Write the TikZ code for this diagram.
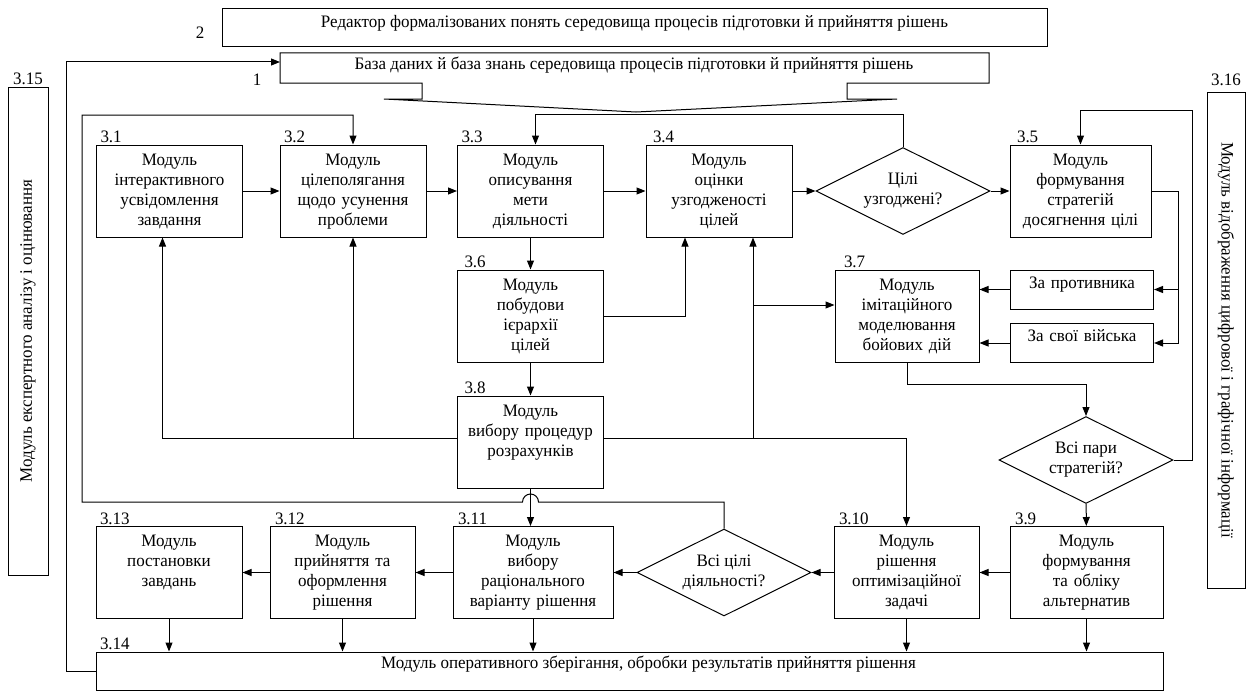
\documentclass[tikz,border=0pt]{standalone}
\usepackage{fontspec}
\setmainfont{Liberation Serif}[FakeStretch=0.97]
\usetikzlibrary{arrows.meta,shapes.geometric}

\begin{document}
\begin{tikzpicture}[x=1pt,y=-1pt,line width=1pt,
  every node/.style={font=\fontsize{17.5}{20}\selectfont},
  arr/.style={-{Triangle[length=9pt,width=7pt]}},
  modbox/.style={draw,align=center,inner sep=0pt,text width=#1,text height=20pt,text depth=72pt},
  modbox/.default=146pt,
  lowbox/.style={draw,align=center,inner sep=0pt,text width=#1,text height=18pt,text depth=21pt},
  longbox/.style={draw,inner sep=0pt,minimum width=#1,text height=19pt,text depth=19pt},
  sidebox/.style={draw,inner sep=0pt,minimum width=#1,minimum height=40pt},
  ask/.style={draw,diamond,aspect=2,align=center,inner sep=0pt,minimum width=174pt,minimum height=87pt},
  num/.style={inner sep=1pt,anchor=south west}]
\useasboundingbox (0,0) rectangle (1250,693);
% editor and data base
\node[longbox=825pt] (red) at (634.5,28) {Редактор формалізованих понять середовища процесів підготовки й прийняття рішень};
\draw (280,53) -- (989,53) -- (989,83) -- (847,83) -- (847,99) -- (897,99) -- (636,112)
  -- (384,99) -- (422,99) -- (422,83) -- (280,83) -- cycle;
\node (baza) at (634,65) {База даних й база знань середовища процесів підготовки й прийняття рішень};
\node (n1) at (257,80) {1};
\node (n2) at (200,33) {2};
% first row
\node[modbox] (m31) at (169.5,191) {Модуль\\інтерактивного\\усвідомлення\\завдання};
\node[modbox] (m32) at (353,191) {Модуль\\цілеполягання\\щодо усунення\\проблеми};
\node[modbox] (m33) at (530.5,191) {Модуль\\описування\\мети\\діяльності};
\node[modbox] (m34) at (719,191) {Модуль\\оцінки\\узгодженості\\цілей};
\node[ask] (d1) at (903,191) {Цілі\\узгоджені?};
\node[modbox=141pt] (m35) at (1080.5,191) {Модуль\\формування\\стратегій\\досягнення цілі};
% middle
\node[modbox] (m36) at (530.5,316) {Модуль\\побудови\\ієрархії\\цілей};
\node[modbox=144pt] (m37) at (907,316) {Модуль\\імітаційного\\моделювання\\бойових дій};
\node[lowbox=143pt] (enemy) at (1082,289.5) {За противника};
\node[lowbox=143pt] (own) at (1082,343) {За свої війська};
\node[modbox] (m38) at (530.5,442) {Модуль\\вибору процедур\\розрахунків};
\node[ask] (d2) at (1086,460) {Всі пари\\стратегій?};
% last row
\node[modbox=153pt] (m39) at (1086.5,572.5) {Модуль\\формування\\та обліку\\альтернатив};
\node[modbox=145pt] (m310) at (906.5,572.5) {Модуль\\рішення\\оптимізаційної\\задачі};
\node[ask] (d3) at (724,572.5) {Всі цілі\\діяльності?};
\node[modbox=160pt] (m311) at (533,572.5) {Модуль\\вибору\\раціонального\\варіанту рішення};
\node[modbox=145pt] (m312) at (342.5,572.5) {Модуль\\прийняття та\\оформлення\\рішення};
\node[modbox] (m313) at (169,572.5) {Модуль\\постановки\\завдань};
\node[draw,inner sep=0pt,minimum width=1067pt,text height=16pt,text depth=22pt] (m314) at (629.5,671)
  {\hspace*{38pt}Модуль оперативного зберігання, обробки результатів прийняття рішення};
% side modules
\node[sidebox=488pt,rotate=90] (m315) at (28,331) {Модуль експертного аналізу і оцінювання};
\node[sidebox=496pt,minimum height=38pt,rotate=-90] (m316) at (1226,340) {Модуль відображення цифрової і графічної інформації};
% numbers
\node[num] (n31) at ([xshift=3pt]m31.north west) {3.1};
\node[num] (n32) at ([xshift=3pt]m32.north west) {3.2};
\node[num] (n33) at ([xshift=3pt]m33.north west) {3.3};
\node[num] (n34) at ([xshift=6pt]m34.north west) {3.4};
\node[num] (n35) at ([xshift=6pt]m35.north west) {3.5};
\node[num] (n36) at ([xshift=6pt]m36.north west) {3.6};
\node[num] (n37) at ([xshift=8pt]m37.north west) {3.7};
\node[num] (n38) at ([xshift=6pt]m38.north west) {3.8};
\node[num] (n39) at ([xshift=4pt]m39.north west) {3.9};
\node[num] (n310) at ([xshift=4pt]m310.north west) {3.10};
\node[num] (n311) at ([xshift=4pt]m311.north west) {3.11};
\node[num] (n312) at ([xshift=4pt]m312.north west) {3.12};
\node[num] (n313) at ([xshift=3pt]m313.north west) {3.13};
\node[num] (n314) at ([xshift=3pt]m314.north west) {3.14};
\node[num,anchor=south] (n315) at (m315.east) {3.15};
\node[num,anchor=south] (n316) at ([yshift=4pt]m316.west) {3.16};
% flow
\draw[arr] (m31) -- (m32);
\draw[arr] (m32) -- (m33);
\draw[arr] (m33) -- (m34);
\draw[arr] (m34) -- (d1);
\draw[arr] (d1) -- (m35);
\draw[arr] (m33) -- (m36);
\draw[arr] (m36) -- (m38);
\draw[arr] (m36.east) -| ([xshift=-34pt]m34.south);
\coordinate (m38L) at ([yshift=4pt]m38.west);
\coordinate (m38R) at ([yshift=4pt]m38.east);
\coordinate (c34) at ([xshift=34pt]m34.south);
\draw[arr] (m38L) -| ([xshift=-7pt]m31.south);
\draw[arr] (m32.south |- m38L) -- (m32.south);
\draw[arr] (m38R) -| (m310.north);
\draw[arr] (c34 |- m38R) -- (c34);
\draw[arr] ([yshift=11pt]m37.west -| c34) -- ([yshift=11pt]m37.west);
\draw[arr] (m35.east) -| ([xshift=24pt]own.east) -- (own.east);
\draw[arr] ([xshift=24pt]own.east |- enemy.east) -- (enemy.east);
\draw[arr] (enemy.west) -- (enemy.west -| m37.east);
\draw[arr] (own.west) -- (own.west -| m37.east);
\draw[arr] (m37.south) -- ++(0,22) -| (d2.north);
\coordinate (loopC) at (1192,110);
\draw[arr] (d2.east) -| (loopC) -| (m35.north);
\draw[arr] (d2) -- (m39);
\draw[arr] (m39) -- (m310);
\draw[arr] (m310) -- (d3);
\draw[arr] (d3) -- (m311);
\draw[arr] (m311) -- (m312);
\draw[arr] (m312) -- (m313);
\foreach \m in {m313,m312,m311,m310,m39}
  \draw[arr] (\m.south) -- (\m.south |- m314.north);
\draw[arr] (m38.south) -- (m38.south |- m311.north);
% feedback loops
\draw[arr] (d1.north) -- ++(0,-33) -| ([xshift=5pt]m33.north);
\coordinate (jmp) at (m38.south |- 0,502);
\coordinate (loopA) at (82,115);
\draw[arr] (d3.north) |- ([xshift=8pt]jmp) arc[start angle=0,end angle=180,radius=8pt]
  -- (jmp -| loopA) -- (loopA) -| (m32.north);
\coordinate (bazaW) at (280,62);
\draw[arr] (m314.west) -- ++(-29,0) |- (bazaW);
\end{tikzpicture}
\end{document}
